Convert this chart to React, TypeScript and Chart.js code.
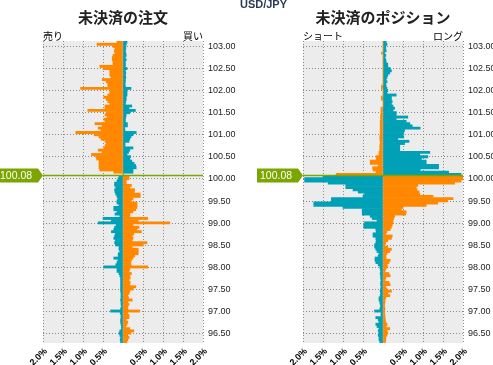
import React, { useEffect, useRef } from 'react';
import { Chart, registerables } from 'chart.js';

Chart.register(...registerables);

// ---------- data ----------
const PAIR = 'USD/JPY';
const CURRENT_PRICE = 100.08;
const BUCKET_SIZE = 0.05;
const BUCKETS_ABOVE = 61;
const BUCKETS_BELOW = 76;

const ORDERS_TITLE = '未決済の注文';
const POSITIONS_TITLE = '未決済のポジション';
const ORDERS_SIDES = ['売り', '買い'];
const POSITIONS_SIDES = ['ショート', 'ロング'];
const X_TICK_LABELS = ['2.0%', '1.5%', '1.0%', '0.5%', '', '0.5%', '1.0%', '1.5%', '2.0%'];

// values in %, listed from the top bucket (103.08-103.13) down to the bottom bucket (96.28-96.33)
const ORDER_SELL = [
  0.15, 0.65, 0.25, 0.2, 0.22, 0.2, 0.25, 0.27, 0.27, 0.25,
  0.25, 0.58, 0.5, 0.33, 0.33, 0.33, 0.3, 0.52, 0.42, 0.38,
  0.38, 1.06, 0.33, 0.33, 0.38, 0.48, 0.42, 0.38, 0.33, 0.45,
  0.45, 0.88, 0.42, 0.45, 0.4, 0.48, 0.45, 0.7, 0.52, 0.62,
  0.55, 1.18, 0.72, 0.6, 0.55, 0.45, 0.42, 0.45, 0.48, 0.62,
  0.52, 0.79, 0.68, 0.66, 0.6, 0.6, 0.6, 0.6, 0.58, 0.23,
  0,
  0.1, 0.125, 0.15, 0.21, 0.21, 0.18, 0.21, 0.2, 0.18, 0.15,
  0.13, 0.15, 0.15, 0.1, 0.23, 0.23, 0.15, 0.2, 0.08, 0.5,
  0.29, 0.62, 0.17, 0.21, 0.23, 0.29, 0.19, 0.21, 0.23, 0.19,
  0.21, 0.19, 0.1, 0.1, 0.08, 0.12, 0.12, 0.23, 0.13, 0.15,
  0.18, 0.48, 0.15, 0.15, 0.1, 0.08, 0.06, 0.06, 0.06, 0.06,
  0.06, 0.06, 0.06, 0.05, 0.05, 0.05, 0.06, 0.05, 0.05, 0.04,
  0.06, 0.31, 0.07, 0.05, 0.05, 0.06, 0.06, 0.05, 0.04, 0.04,
  0.08, 0.1, 0.08, 0.06, 0.07, 0.06,
];

const ORDER_BUY = [
  0.1, 0.08, 0.07, 0.07, 0.06, 0.07, 0.08, 0.06, 0.08, 0.06,
  0.06, 0.06, 0.1, 0.06, 0.07, 0.06, 0.07, 0.06, 0.06, 0.05,
  0.06, 0.2, 0.1, 0.1, 0.1, 0.08, 0.08, 0.07, 0.06, 0.22,
  0.15, 0.31, 0.17, 0.08, 0.07, 0.06, 0.06, 0.11, 0.11, 0.04,
  0.05, 0.33, 0.25, 0.2, 0.17, 0.15, 0.05, 0.05, 0.25, 0.17,
  0.14, 0.1, 0.19, 0.17, 0.22, 0.28, 0.32, 0.33, 0.25, 0.25,
  0,
  0.15, 0.15, 0.08, 0.08, 0.21, 0.17, 0.29, 0.28, 0.43, 0.43,
  0.25, 0.21, 0.35, 0.35, 0.35, 0.32, 0.25, 0.17, 0.17, 0.62,
  0.38, 1.17, 0.25, 0.4, 0.35, 0.46, 0.27, 0.23, 0.25, 0.23,
  0.6, 0.5, 0.23, 0.38, 0.38, 0.38, 0.29, 0.25, 0.21, 0.19,
  0.2, 0.62, 0.17, 0.15, 0.21, 0.17, 0.18, 0.15, 0.18, 0.17,
  0.32, 0.25, 0.17, 0.15, 0.12, 0.14, 0.23, 0.12, 0.15, 0.12,
  0.12, 0.42, 0.12, 0.15, 0.15, 0.08, 0.12, 0.1, 0.07, 0.17,
  0.27, 0.2, 0.12, 0.15, 0.12, 0.1,
];

const POSITION_SHORT = [
  0, 0, 0, 0, 0, 0.04, 0, 0, 0, 0,
  0, 0, 0, 0, 0, 0, 0, 0, 0, 0,
  0.04, 0.04, 0, 0, 0, 0.04, 0.04, 0, 0, 0,
  0.05, 0.05, 0.05, 0.06, 0.06, 0.06, 0.07, 0.07, 0.07, 0.07,
  0.07, 0.07, 0.07, 0.08, 0.08, 0.07, 0.07, 0.08, 0.08, 0.08,
  0.1, 0.1, 0.17, 0.17, 0.32, 0.32, 0.12, 0.26, 0.25, 0.17,
  1.17,
  1.5, 1.96, 1.96, 1.37, 0.93, 0.93, 0.75, 0.62, 0.46, 0.5,
  1.29, 1.29, 1.73, 1.73, 1.0, 0.52, 0.52, 0.52, 0.32, 0.27,
  0.15, 0.46, 0.48, 0.48, 0.18, 0.17, 0.25, 0.25, 0.18, 0.17,
  0.18, 0.21, 0.21, 0.18, 0.15, 0.1, 0.12, 0.2, 0.2, 0.18,
  0.12, 0.08, 0.07, 0.06, 0.07, 0.06, 0.06, 0.05, 0.06, 0.06,
  0.05, 0.06, 0.07, 0.06, 0.07, 0.1, 0.1, 0.08, 0.07, 0.06,
  0.08, 0.21, 0.05, 0.05, 0.18, 0.12, 0.1, 0.18, 0.15, 0.1,
  0.12, 0.1, 0.12, 0.1, 0.1, 0.08,
];

const POSITION_LONG = [
  0.08, 0.1, 0.07, 0.07, 0.08, 0.04, 0.07, 0.05, 0.07, 0.08,
  0.12, 0.12, 0.18, 0.21, 0.17, 0.12, 0.1, 0.08, 0.1, 0.07,
  0.08, 0.1, 0.12, 0.1, 0.33, 0.21, 0.21, 0.23, 0.21, 0.25,
  0.29, 0.25, 0.33, 0.33, 0.62, 0.33, 0.58, 0.67, 0.73, 0.93,
  0.54, 0.52, 0.5, 0.52, 0.37, 0.65, 0.54, 0.42, 0.42, 0.42,
  1.17, 0.92, 1.12, 0.96, 1.08, 1.08, 1.39, 1.39, 0.93, 1.64,
  1.95,
  2.0, 2.0, 1.95, 1.79, 0.87, 0.83, 0.85, 0.9, 0.92, 1.25,
  1.75, 1.62, 1.37, 1.08, 0.5, 0.46, 0.58, 0.57, 0.29, 0.27,
  0.25, 0.25, 0.23, 0.21, 0.18, 0.1, 0.07, 0.23, 0.21, 0.12,
  0.07, 0.05, 0.12, 0.21, 0.17, 0.1, 0.07, 0.08, 0.18, 0.15,
  0.1, 0.12, 0.07, 0.05, 0.15, 0.18, 0.07, 0.05, 0.15, 0.18,
  0.07, 0.1, 0.21, 0.12, 0.17, 0.07, 0.05, 0.05, 0.04, 0.04,
  0.05, 0.04, 0.04, 0.05, 0.05, 0.06, 0.07, 0.1, 0.08, 0.17,
  0.1, 0.12, 0.1, 0.07, 0.07, 0.06,
];

// bucket centres (categories of the price axis)
const PRICES = Array.from({ length: BUCKETS_ABOVE + BUCKETS_BELOW }, (_, i) =>
  +(CURRENT_PRICE + (BUCKETS_ABOVE - i - 0.5) * BUCKET_SIZE).toFixed(3)
);
const Y_MIN = +(CURRENT_PRICE - BUCKETS_BELOW * BUCKET_SIZE).toFixed(2);
const Y_MAX = +(CURRENT_PRICE + BUCKETS_ABOVE * BUCKET_SIZE).toFixed(2);

// ---------- styles ----------
const W = 493;
const H = 365;
const ORANGE = '#FF8800';
const BLUE = '#00A0B6';
const GREEN = '#7DA500';
const PLOT_BG = '#ECECEC';
const GRID = '#8A8A8A';
const SANS = '"Liberation Sans", Arial, sans-serif';
const JP = '"Noto Sans CJK JP", sans-serif';

type Spec = {
  left: number[];
  right: number[];
  title: string;
  sides: string[];
  padLeft: number;
  padRight: number;
  axisWidth: number;
  drawPair: boolean;
};

function buildChart(canvas: HTMLCanvasElement, s: Spec) {
  const leftColors = PRICES.map((p) => (p > CURRENT_PRICE ? ORANGE : BLUE));
  const rightColors = PRICES.map((p) => (p > CURRENT_PRICE ? BLUE : ORANGE));

  const deco = {
    id: 'deco',
    beforeDraw(chart: any) {
      const { ctx, chartArea: a } = chart;
      ctx.save();
      ctx.fillStyle = PLOT_BG;
      ctx.fillRect(a.left, a.top, a.right - a.left, a.bottom - a.top);
      ctx.restore();
    },
    afterDatasetsDraw(chart: any) {
      const { ctx, chartArea: a, scales } = chart;
      const y = Math.round(scales.y.getPixelForValue(CURRENT_PRICE)) + 0.5;
      ctx.save();
      ctx.strokeStyle = GREEN;
      ctx.lineWidth = 1.5;
      ctx.beginPath();
      ctx.moveTo(a.left, y);
      ctx.lineTo(a.right, y);
      ctx.stroke();
      const x0 = a.left;
      ctx.fillStyle = GREEN;
      ctx.beginPath();
      ctx.moveTo(x0 - 46, y - 7);
      ctx.lineTo(x0 - 5, y - 7);
      ctx.lineTo(x0, y);
      ctx.lineTo(x0 - 5, y + 7);
      ctx.lineTo(x0 - 46, y + 7);
      ctx.closePath();
      ctx.fill();
      ctx.fillStyle = '#FFFFFF';
      ctx.font = '10.5px ' + SANS;
      ctx.textAlign = 'left';
      ctx.textBaseline = 'middle';
      ctx.fillText(CURRENT_PRICE.toFixed(2), x0 - 43, y + 0.5);
      ctx.restore();
    },
    afterDraw(chart: any) {
      const { ctx, chartArea: a } = chart;
      ctx.save();
      ctx.fillStyle = '#222222';
      ctx.textBaseline = 'middle';
      ctx.font = 'bold 15px ' + JP;
      ctx.textAlign = 'center';
      ctx.fillText(s.title, (a.left + a.right) / 2, 17.5);
      ctx.font = '10px ' + JP;
      ctx.fillStyle = '#000000';
      ctx.textAlign = 'left';
      ctx.fillText(s.sides[0], a.left, 36);
      ctx.textAlign = 'right';
      ctx.fillText(s.sides[1], a.right, 36);
      if (s.drawPair) {
        ctx.font = 'bold 11px ' + SANS;
        ctx.fillStyle = '#2B3B55';
        ctx.textAlign = 'center';
        ctx.textBaseline = 'top';
        ctx.fillText(PAIR, 263.5, -1);
      }
      ctx.restore();
    },
  };

  return new Chart(canvas, {
    type: 'bar',
    data: {
      datasets: [
        {
          data: PRICES.map((p, i) => ({ x: -s.left[i], y: p })),
          backgroundColor: leftColors,
          borderWidth: 0,
          barPercentage: 1,
          categoryPercentage: 1,
        },
        {
          data: PRICES.map((p, i) => ({ x: s.right[i], y: p })),
          backgroundColor: rightColors,
          borderWidth: 0,
          barPercentage: 1,
          categoryPercentage: 1,
        },
      ],
    },
    options: {
      indexAxis: 'y',
      animation: false,
      responsive: false,
      events: [],
      layout: { padding: { left: s.padLeft, right: s.padRight, top: 41, bottom: 0 } },
      plugins: { legend: { display: false }, tooltip: { enabled: false }, title: { display: false } },
      scales: {
        x: {
          type: 'linear',
          min: -2,
          max: 2,
          stacked: true,
          offset: false,
          grid: { color: GRID, drawTicks: false, offset: false },
          border: { display: false, dash: [1, 2] },
          ticks: {
            stepSize: 0.5,
            autoSkip: false,
            minRotation: 45,
            maxRotation: 45,
            padding: 3,
            labelOffset: 3,
            color: '#000000',
            font: { family: SANS, size: 9, weight: 'bold' },
            callback: (_v: any, i: number) => X_TICK_LABELS[i],
          },
          afterFit: (sc: any) => {
            sc.height = 22;
          },
        },
        y: {
          type: 'linear',
          position: 'right',
          min: Y_MIN,
          max: Y_MAX,
          stacked: true,
          offset: false,
          grid: { color: GRID, drawTicks: false, offset: false },
          border: { display: false, dash: [1, 2] },
          ticks: {
            stepSize: 0.5,
            includeBounds: false,
            autoSkip: false,
            padding: 5,
            color: '#222222',
            font: { family: SANS, size: 9 },
            callback: (v: any) => Number(v).toFixed(2),
          },
          afterFit: (sc: any) => {
            sc.width = s.axisWidth;
          },
        },
      },
    },
    plugins: [deco],
  } as any);
}

export default function App() {
  const leftRef = useRef<HTMLCanvasElement>(null);
  const rightRef = useRef<HTMLCanvasElement>(null);

  useEffect(() => {
    const c1 = buildChart(leftRef.current!, {
      left: ORDER_SELL,
      right: ORDER_BUY,
      title: ORDERS_TITLE,
      sides: ORDERS_SIDES,
      padLeft: 43,
      padRight: W - 246,
      axisWidth: 43,
      drawPair: true,
    });
    const c2 = buildChart(rightRef.current!, {
      left: POSITION_SHORT,
      right: POSITION_LONG,
      title: POSITIONS_TITLE,
      sides: POSITIONS_SIDES,
      padLeft: 303,
      padRight: 0,
      axisWidth: 30,
      drawPair: false,
    });
    return () => {
      c1.destroy();
      c2.destroy();
    };
  }, []);

  const cs: React.CSSProperties = { position: 'absolute', left: 0, top: 0, width: W, height: H };
  return (
    <div style={{ position: 'absolute', left: 0, top: 0, width: W, height: H, background: '#FFFFFF', overflow: 'hidden' }}>
      <canvas ref={leftRef} width={W} height={H} style={cs} />
      <canvas ref={rightRef} width={W} height={H} style={cs} />
    </div>
  );
}
